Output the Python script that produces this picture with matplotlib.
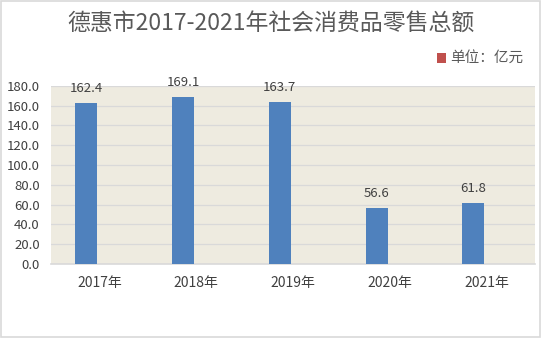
import matplotlib
matplotlib.use('Agg')
import matplotlib.pyplot as plt
import numpy as np
from matplotlib.patches import Rectangle

plt.rcParams['font.family'] = ['Noto Sans CJK SC', 'DejaVu Sans']
plt.rcParams['axes.unicode_minus'] = False

# 数据
years = ['2017年', '2018年', '2019年', '2020年', '2021年']
sales = [162.4, 169.1, 163.7, 56.6, 61.8]
y_ticks = [0, 20, 40, 60, 80, 100, 120, 140, 160, 180]

fig = plt.figure(figsize=(5.42, 3.38), dpi=100)
fig.patch.set_facecolor('white')
# 外框
fig.patches.append(Rectangle((0.002, 0.003), 0.995, 0.993, transform=fig.transFigure,
                             fill=False, edgecolor='#D9D9D9', linewidth=1.2))

ax = fig.add_axes([0.094, 0.219, 0.893, 0.527])
ax.set_facecolor('#EEEBE0')

x = np.arange(len(years))
bars = ax.bar(x - 0.135, sales, width=0.227, color='#4F81BD', zorder=3)
for b, v in zip(bars, sales):
    ax.text(b.get_x() + b.get_width() / 2, v + 8, f'{v:.1f}', ha='center', va='bottom',
            fontsize=9.5, color='#404040', zorder=4)

ax.set_xlim(-0.5, len(years) - 0.5)
ax.set_ylim(0, 180)
ax.set_yticks(y_ticks)
ax.set_yticklabels([f'{t:.1f}' for t in y_ticks], fontsize=9.5, color='#404040')
ax.set_xticks(x)
ax.set_xticklabels(years, fontsize=10, color='#404040')
ax.tick_params(axis='both', length=0)
ax.tick_params(axis='x', pad=9)
ax.tick_params(axis='y', pad=8)
ax.grid(axis='y', color='#D9D9D9', linewidth=0.9, zorder=0)
for s in ['top', 'right', 'left']:
    ax.spines[s].set_visible(False)
ax.spines['bottom'].set_color('#D9D9D9')
ax.spines['bottom'].set_linewidth(1.2)

fig.text(0.5, 0.93, '德惠市2017-2021年社会消费品零售总额', ha='center', va='center',
         fontsize=16.5, color='#595959')

# 图例
fig.patches.append(Rectangle((0.807, 0.815), 0.016, 0.027, transform=fig.transFigure,
                             facecolor='#C0504D', edgecolor='none'))
fig.text(0.830, 0.829, '单位：亿元', ha='left', va='center', fontsize=10.5, color='#595959')

plt.savefig('out.png', dpi=100)
